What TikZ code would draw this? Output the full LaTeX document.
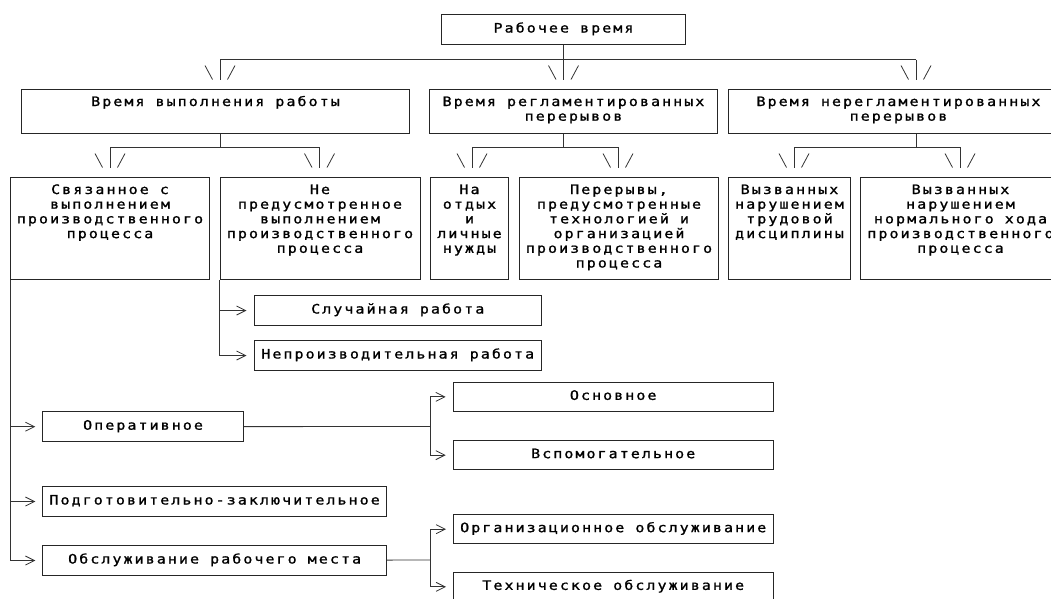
\documentclass[tikz,border=0pt]{standalone}
\usepackage{fontspec}
\newfontfamily\boxfont[LetterSpace=16,FakeStretch=1.15,FakeBold=1.2]{DejaVu Sans Mono}
\usetikzlibrary{arrows.meta}
\newcommand{\boxlines}[1]{\begin{tabular}[t]{@{}c@{}}#1\end{tabular}}

\begin{document}
\begin{tikzpicture}[x=1pt,y=-1pt,
    box/.style={draw=black!85, line width=1pt, anchor=north west, inner sep=0pt,
      font=\boxfont\fontsize{13}{14.7}\selectfont},
    wire/.style={draw=black!80, line width=0.8pt},
    one/.style={box, minimum height=30pt, text height=9pt, text depth=3pt},
    head/.style={box, minimum height=44pt, text height=17pt, text depth=27pt},
    tall/.style={box, minimum height=102.5pt, text height=17pt, text depth=85.5pt},
    arr/.style={wire, -{Straight Barb[length=9pt,width=9pt]}, shorten >=7pt},
    drop/.style={wire, shorten >=9pt},
    fork/.pic={\draw[wire, shorten >=0pt] (-15,-23) -- (-7.5,-9) (15,-23) -- (7.5,-9);}
  ]
    \useasboundingbox (0,0) rectangle (1051,598);
    \clip (0,0) rectangle (1051,598);

    \node[one, minimum width=244pt] (R) at (441,14) {Рабочее время};

    \node[head, minimum width=388pt] (L1a) at (21,88.5) {\boxlines{Время выполнения работы}};
    \node[head, minimum width=288pt] (L1b) at (429,88.5) {\boxlines{Время регламентированных\\перерывов}};
    \node[head, minimum width=340pt] (L1c) at (728,88.5) {\boxlines{Время нерегламентированных\\перерывов}};

    \node[tall, minimum width=199pt] (A) at (10,176.5) {\boxlines{Связанное с\\выполнением\\производственного\\процесса}};
    \node[tall, minimum width=200pt] (B) at (219.5,176.5) {\boxlines{Не\\предусмотренное\\выполнением\\производственного\\процесса}};
    \node[tall, minimum width=78pt] (C) at (430,176.5) {\boxlines{На\\отдых\\и\\личные\\нужды}};
    \node[tall, minimum width=199pt] (D) at (519,176.5) {\boxlines{Перерывы,\\предусмотренные\\технологией и\\организацией\\производственного\\процесса}};
    \node[tall, minimum width=122pt] (E) at (728,176.5) {\boxlines{Вызванных\\нарушением\\трудовой\\дисциплины}};
    \node[tall, minimum width=200pt] (F) at (860,176.5) {\boxlines{Вызванных\\нарушением\\нормального хода\\производственного\\процесса}};

    \node[one, minimum width=287.5pt] (S1) at (253.5,295) {Случайная работа};
    \node[one, minimum width=287.5pt] (S2) at (253.5,340) {Непроизводительная работа};

    \node[one, minimum width=200.5pt] (O1) at (42.3,411.2) {Оперативное};
    \node[one, minimum width=343.7pt] (O2) at (42.3,486) {Подготовительно-заключительное};
    \node[one, minimum width=343.7pt] (O3) at (42.3,545) {Обслуживание рабочего места};

    \node[one, minimum width=320pt, minimum height=29.3pt] (P1) at (452.7,381.7) {Основное};
    \node[one, minimum width=320pt, minimum height=29.3pt] (P2) at (452.7,440) {Вспомогательное};
    \node[one, minimum width=319.5pt, minimum height=29.3pt] (Q1) at (453,514) {Организационное обслуживание};
    \node[one, minimum width=319.5pt, minimum height=29.3pt] (Q2) at (453,571.7) {Техническое обслуживание};

    % top level
    \coordinate (k1) at (220,59.5);
    \coordinate (k3) at (916,59.5);
    \draw[wire] (R) -- (R |- k1);
    \draw[wire] (k1) -- (k3);
    \draw[drop] (k1) -- (k1 |- L1a.north) pic {fork};
    \draw[drop] (R |- k1) -- (R |- L1b.north) pic {fork};
    \draw[drop] (k3) -- (k3 |- L1c.north) pic {fork};

    % second level
    \coordinate (m1) at (110,147);
    \coordinate (m2) at (319.5,147);
    \coordinate (m3) at (472,147);
    \coordinate (m4) at (618,147);
    \coordinate (m5) at (794,147);
    \coordinate (m6) at (960,147);
    \draw[wire] (L1a.south -| k1) -- (k1 |- m1);
    \draw[wire] (m1) -- (m2);
    \draw[drop] (m1) -- (m1 |- A.north) pic {fork};
    \draw[drop] (m2) -- (m2 |- B.north) pic {fork};
    \draw[wire] (L1b.south -| R) -- (R |- m3);
    \draw[wire] (m3) -- (m4);
    \draw[drop] (m3) -- (m3 |- C.north) pic {fork};
    \draw[drop] (m4) -- (m4 |- D.north) pic {fork};
    \draw[wire] (L1c.south -| k3) -- (k3 |- m5);
    \draw[wire] (m5) -- (m6);
    \draw[drop] (m5) -- (m5 |- E.north) pic {fork};
    \draw[drop] (m6) -- (m6 |- F.north) pic {fork};

    % leaves
    \draw[arr] (B.south west) |- (S1);
    \draw[arr] (B.south west) |- (S2);
    \draw[arr] (A.south west) |- (O1);
    \draw[arr] (A.south west) |- (O2);
    \draw[arr] (A.south west) |- (O3);

    \coordinate (n1) at (430,426.5);
    \coordinate (n2) at (430,560);
    \draw[wire] (O1) -- (n1);
    \draw[arr] (n1) |- (P1);
    \draw[arr] (n1) |- (P2);
    \draw[wire] (O3) -- (n2);
    \draw[arr] (n2) |- (Q1);
    \draw[arr] (n2) |- (Q2);
\end{tikzpicture}
\end{document}
